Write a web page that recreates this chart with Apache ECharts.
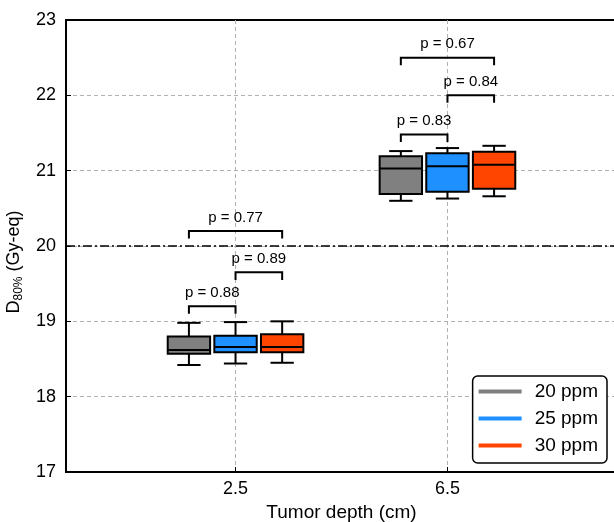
<!DOCTYPE html>
<html>
<head>
<meta charset="utf-8">
<script src="https://cdn.jsdelivr.net/npm/echarts@6/dist/echarts.min.js"></script>
<style>
  html, body { margin: 0; padding: 0; background: #fff; }
  #main { width: 614px; height: 522px; }
</style>
</head>
<body>
<div id="main"></div>
<script>
// tumor depth groups (x positions 1 and 2 on the axis)
var depths = ['2.5', '6.5'];
var depthPos = [1, 2];
var seriesNames = ['20 ppm', '25 ppm', '30 ppm'];
var colors = ['#808080', '#1E90FF', '#FF4500'];

// [min, Q1, median, Q3, max] per depth
var ppm20 = [[18.42, 18.57, 18.62, 18.80, 18.98], [20.60, 20.69, 21.03, 21.19, 21.26]];
var ppm25 = [[18.44, 18.59, 18.66, 18.81, 18.99], [20.63, 20.72, 21.06, 21.23, 21.30]];
var ppm30 = [[18.45, 18.59, 18.66, 18.83, 19.00], [20.66, 20.76, 21.08, 21.25, 21.33]];

// significance brackets: [depth index, from series, to series, bracket height, p]
var brackets = [
    [0, 0, 1, 19.2, '0.88'],
    [0, 1, 2, 19.65, '0.89'],
    [0, 0, 2, 20.2, '0.77'],
    [1, 0, 1, 21.48, '0.83'],
    [1, 1, 2, 22.0, '0.84'],
    [1, 0, 2, 22.5, '0.67']
];
var yTicks = [17, 18, 19, 20, 21, 22, 23];
var refLine = 20;

var offsets = [-0.22, 0, 0.22];
var boxW = 0.2;
var capW = 0.11;
var FONT = 'Liberation Sans, Arial, sans-serif';

function boxRender(k) {
    return function (params, api) {
        var x = api.value(0) + offsets[k];
        var lo = api.coord([x, api.value(1)]);
        var q1 = api.coord([x, api.value(2)]);
        var md = api.coord([x, api.value(3)]);
        var q3 = api.coord([x, api.value(4)]);
        var hi = api.coord([x, api.value(5)]);
        var hw = api.size([boxW, 0])[0] / 2;
        var cw = api.size([capW, 0])[0] / 2;
        var cx = lo[0];
        var ls = { stroke: '#000', lineWidth: 2 };
        return {
            type: 'group',
            children: [
                { type: 'line', shape: { x1: cx, y1: lo[1], x2: cx, y2: q1[1] }, style: ls },
                { type: 'line', shape: { x1: cx, y1: q3[1], x2: cx, y2: hi[1] }, style: ls },
                { type: 'line', shape: { x1: cx - cw, y1: lo[1], x2: cx + cw, y2: lo[1] }, style: ls },
                { type: 'line', shape: { x1: cx - cw, y1: hi[1], x2: cx + cw, y2: hi[1] }, style: ls },
                { type: 'rect', shape: { x: cx - hw, y: q3[1], width: hw * 2, height: q1[1] - q3[1] },
                  style: { fill: colors[k], stroke: '#000', lineWidth: 2 } },
                { type: 'line', shape: { x1: cx - hw, y1: md[1], x2: cx + hw, y2: md[1] }, style: ls }
            ]
        };
    };
}

function toData(arr) {
    return arr.map(function (v, i) { return [depthPos[i]].concat(v); });
}

var boxSeries = [ppm20, ppm25, ppm30].map(function (arr, k) {
    return {
        name: seriesNames[k],
        type: 'custom',
        renderItem: boxRender(k),
        itemStyle: { color: colors[k] },
        encode: { x: 0, y: [1, 2, 3, 4, 5] },
        data: toData(arr),
        z: 3
    };
});

var bracketSeries = {
    type: 'custom',
    silent: true,
    z: 4,
    data: brackets.map(function (b) {
        return [depthPos[b[0]] + offsets[b[1]], depthPos[b[0]] + offsets[b[2]], b[3], b[4]];
    }),
    encode: { x: [0, 1], y: 2 },
    renderItem: function (params, api) {
        var a = api.coord([api.value(0), api.value(2)]);
        var b = api.coord([api.value(1), api.value(2)]);
        var leg = api.size([0, 0.1])[1];
        return {
            type: 'group',
            children: [
                { type: 'polyline', shape: { points: [[a[0], a[1] + leg], a, b, [b[0], b[1] + leg]] },
                  style: { stroke: '#000', lineWidth: 2, fill: null } },
                { type: 'text', x: (a[0] + b[0]) / 2, y: a[1] - 6,
                  style: { text: 'p = ' + brackets[params.dataIndex][4], fill: '#000',
                           font: '15px ' + FONT, align: 'center', verticalAlign: 'bottom' } }
            ]
        };
    }
};

var chart = echarts.init(document.getElementById('main'));
chart.setOption({
    animation: false,
    grid: {
        left: 66, top: 20, width: 551, height: 452,
        outerBoundsMode: 'none', containLabel: false,
        show: true, borderColor: '#000', borderWidth: 2
    },
    legend: {
        data: seriesNames,
        right: 7, bottom: 59,
        orient: 'vertical',
        icon: 'rect',
        itemWidth: 43, itemHeight: 4,
        itemGap: 8,
        padding: [6, 9, 8, 6],
        borderColor: '#000', borderWidth: 1.5, borderRadius: 5,
        backgroundColor: '#fff',
        textStyle: { fontSize: 19, fontFamily: FONT, color: '#000', padding: [0, 0, 0, 8] }
    },
    xAxis: {
        type: 'value',
        min: 0.2, max: 2.8,
        name: 'Tumor depth (cm)',
        nameLocation: 'middle',
        nameGap: 30,
        nameTextStyle: { fontSize: 19, fontFamily: FONT, color: '#000' },
        axisLine: { lineStyle: { color: '#000', width: 2 } },
        axisTick: { customValues: depthPos, inside: true, length: 5, lineStyle: { color: '#000' } },
        axisLabel: {
            customValues: depthPos, margin: 8, fontSize: 18, fontFamily: FONT, color: '#000',
            formatter: function (v) { return depths[depthPos.indexOf(v)]; }
        },
        splitLine: { show: true, lineStyle: { color: '#b0b0b0', type: [4, 3], width: 1 } }
    },
    yAxis: {
        type: 'value',
        min: yTicks[0], max: yTicks[yTicks.length - 1], interval: 1,
        name: '{d|D}{s|80%}{d| (Gy-eq)}',
        nameLocation: 'middle',
        nameRotate: 90,
        nameGap: 37,
        nameTextStyle: {
            padding: [0, 32, 0, 0],
            rich: {
                d: { fontSize: 18, fontFamily: FONT, color: '#000', lineHeight: 22, verticalAlign: 'middle' },
                s: { fontSize: 12, fontFamily: FONT, color: '#000', lineHeight: 22, verticalAlign: 'bottom' }
            }
        },
        axisLine: { lineStyle: { color: '#000', width: 2 } },
        axisTick: { inside: true, length: 5, lineStyle: { color: '#000' } },
        axisLabel: { margin: 10, fontSize: 18, fontFamily: FONT, color: '#000' },
        splitLine: { show: true, showMaxLine: false, showMinLine: false,
                     lineStyle: { color: '#b0b0b0', type: [4, 3], width: 1 } }
    },
    series: boxSeries.concat([bracketSeries, {
        type: 'line',
        data: [],
        silent: true,
        markLine: {
            symbol: 'none',
            silent: true,
            label: { show: false },
            lineStyle: { color: '#000', width: 1.5, type: [9, 3, 2, 3] },
            data: [{ yAxis: refLine }]
        }
    }])
});
</script>
</body>
</html>
